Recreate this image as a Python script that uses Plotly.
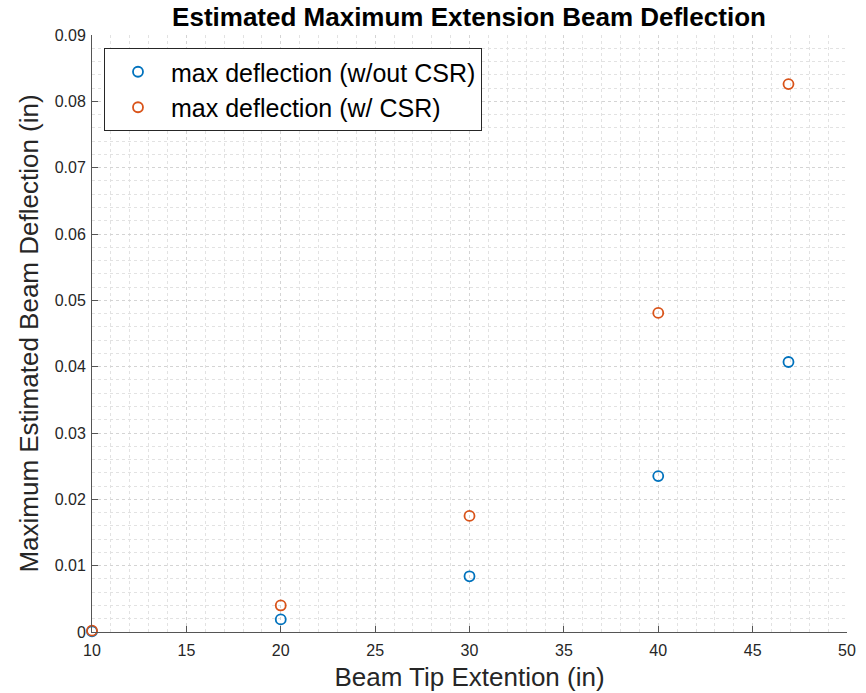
import plotly.graph_objects as go

extension = [10, 20, 30, 40, 46.9]
defl_no_csr = [0.0001, 0.0019, 0.0084, 0.0235, 0.0407]
defl_csr = [0.0002, 0.0040, 0.0175, 0.0481, 0.0826]
x_ticks = [10, 15, 20, 25, 30, 35, 40, 45, 50]
y_ticks = [0, 0.01, 0.02, 0.03, 0.04, 0.05, 0.06, 0.07, 0.08, 0.09]
y_tick_text = ["0", "0.01", "0.02", "0.03", "0.04", "0.05", "0.06", "0.07", "0.08", "0.09"]

FONT = "Liberation Sans, Arial, Helvetica, sans-serif"

fig = go.Figure()
fig.add_trace(go.Scatter(
    x=extension, y=defl_no_csr, mode="markers",
    name="max deflection (w/out CSR)",
    marker=dict(symbol="circle-open", size=10, color="#0072BD", line=dict(width=1.8, color="#0072BD")),
    cliponaxis=False,
))
fig.add_trace(go.Scatter(
    x=extension, y=defl_csr, mode="markers",
    name="max deflection (w/ CSR)",
    marker=dict(symbol="circle-open", size=10, color="#D95319", line=dict(width=1.8, color="#D95319")),
    cliponaxis=False,
))

axis_common = dict(
    showline=True, linecolor="#555555", linewidth=1,
    ticks="inside", ticklen=6, tickcolor="#555555",
    showgrid=True, gridcolor="#d4d4d4", griddash="dot", gridwidth=1,
    zeroline=False, mirror=False,
    tickfont=dict(family=FONT, size=16, color="#262626"),
)

fig.update_xaxes(
    range=[10, 50], tickvals=x_ticks,
    title=dict(text="Beam Tip Extention (in)", font=dict(family=FONT, size=26, color="#262626"), standoff=9),
    minor=dict(dtick=1, showgrid=True, gridcolor="#e2e2e2", griddash="dot", gridwidth=1, ticks=""),
    ticklabelstandoff=4,
    **axis_common,
)
fig.update_yaxes(
    range=[0, 0.09], tickvals=y_ticks, ticktext=y_tick_text,
    title=dict(text="Maximum Estimated Beam Deflection (in)", font=dict(family=FONT, size=26, color="#262626"), standoff=8),
    minor=dict(dtick=0.002, showgrid=True, gridcolor="#e2e2e2", griddash="dot", gridwidth=1, ticks=""),
    ticklabelstandoff=2,
    **axis_common,
)

fig.update_layout(
    width=866, height=693,
    margin=dict(l=92, r=19, t=35, b=61, autoexpand=False),
    paper_bgcolor="white", plot_bgcolor="white",
    title=dict(text="<b>Estimated Maximum Extension Beam Deflection</b>",
               font=dict(family=FONT, size=26, color="black"),
               x=469 / 866, xanchor="center", y=1 - 17 / 693, yanchor="middle"),
    legend=dict(x=12 / 755, y=1 - 13 / 597, xanchor="left", yanchor="top",
                bgcolor="white", bordercolor="#262626", borderwidth=1,
                font=dict(family=FONT, size=25, color="black"),
                itemwidth=56, tracegroupgap=0),
    showlegend=True,
)

fig.write_html("out.html", config={"displayModeBar": False},
               post_script="document.body.style.margin='0';")
